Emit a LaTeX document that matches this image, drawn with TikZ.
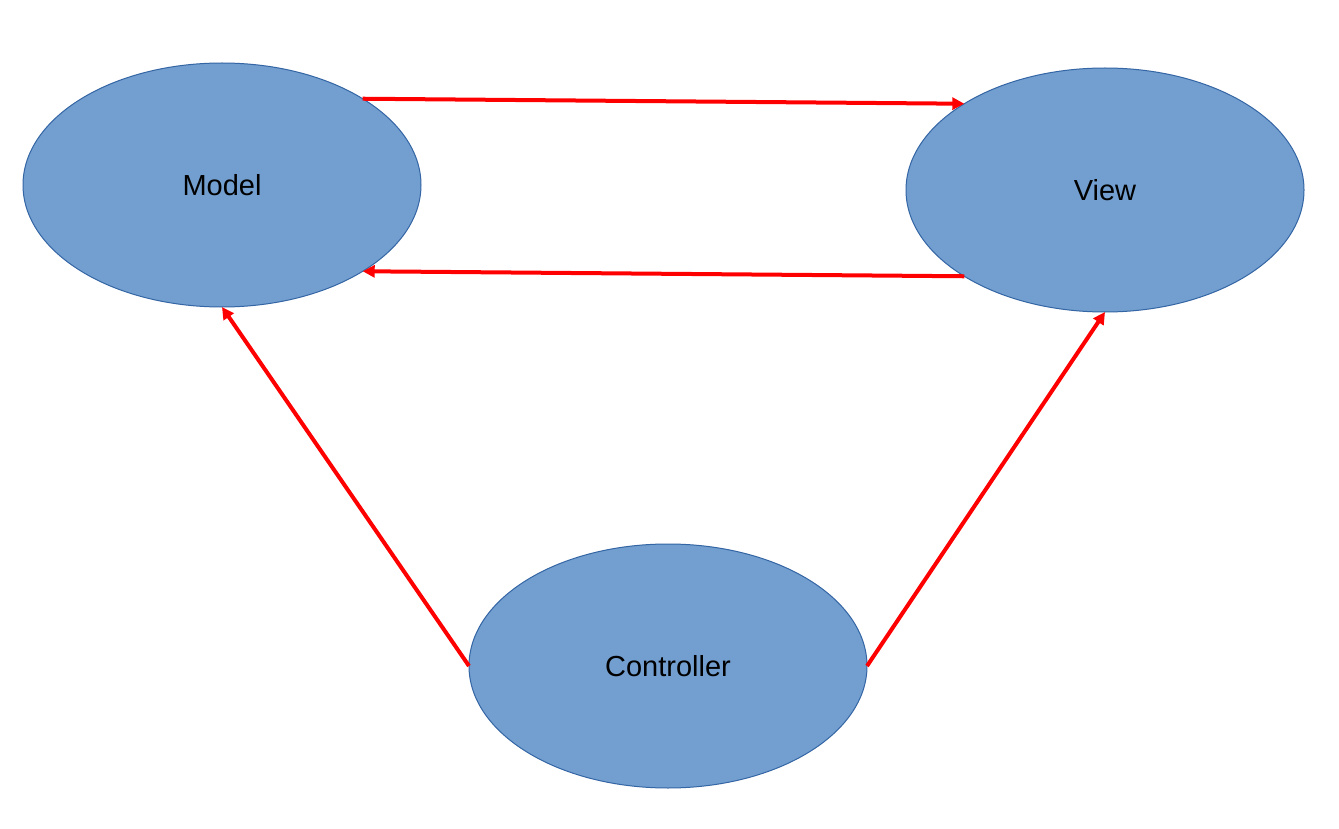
\documentclass[tikz,border=0pt]{standalone}
\usepackage{fontspec}
\setmainfont{Liberation Sans}
\usetikzlibrary{shapes.geometric,arrows.meta}
\definecolor{ovalfill}{HTML}{729FCF}
\definecolor{ovalline}{HTML}{3465A4}
\begin{document}
\begin{tikzpicture}[x=1pt,y=-1pt,
  oval/.style={ellipse,draw=ovalline,line width=1pt,fill=ovalfill,
    minimum width=398pt,minimum height=244pt,inner sep=0pt,outer sep=0pt,
    font=\fontsize{29}{34}\selectfont},
  link/.style={draw=red,line width=4pt,-{Triangle[length=12pt,width=12pt]}}]
  \useasboundingbox[fill=white] (0,0) rectangle (1339,829);
  \node[oval] (model) at (222,185) {Model};
  \node[oval] (view) at (1105,190) {View};
  \node[oval] (ctrl) at (668,666) {Controller};
  \draw[link] (model.north east) -- (view.north west);
  \draw[link] (view.south west) -- (model.south east);
  \draw[link] (ctrl.west) -- (model.south);
  \draw[link] (ctrl.east) -- (view.south);
\end{tikzpicture}
\end{document}
